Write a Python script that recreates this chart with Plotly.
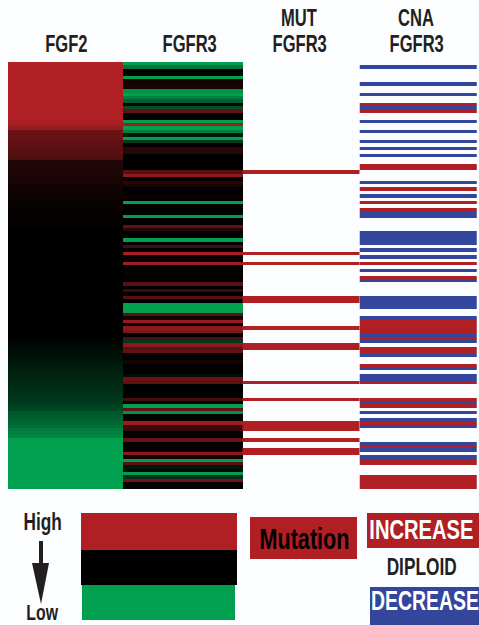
import plotly.graph_objects as go

W, H = 479, 625
BG = "#fcfdfe"
RED, GREEN, BLUE, BLACK = "#b01f24", "#00a04f", "#34469b", "#000000"
FONT = "Liberation Sans, Arimo, sans-serif"

n_rows = 126
fgf2 = [1.0] * 17 + [.97, .93, .85, .62, .6, .58, .57, .55, .53, .5, .48, .45,
        .2, .19, .18, .17, .16, .14, .13, .12, .1, .09, .07, .06, .05, .05, .04, .04,
        .03, .03, .02, .02] + [0.0] * 33 + [-.03, -.05, -.07, -.09, -.1, -.12, -.14, -.16, -.18,
        -.2, -.22, -.24, -.25, -.26, -.28, -.3, -.32, -.34, -.36, -.42, -.45, -.55, -.58,
        -.62, -.65, -.7, -.78, -.8, -.85] + [-1.0] * 16
fgf2 = fgf2[:n_rows] + [-1.0] * (n_rows - len(fgf2))

fgfr3 = [-1, -.75, 0, .02, -1, .1, .12, .15, -.9, -1, -.8, -.6, 0, -.5, .55, 0, 0, -1, .9, -1,
         -.8, -.15, -1, -.35, .02, .22, .22, 0, 0, 0, 0, 0, .5, .8, .03, .22, .15, 0, 0, .05,
         .05, -1, 0, 0, 0, -1, 0, 0, .55, .22, 0, 0, -1, 0, .4, .02, .95, .08, 0, .9,
         0, 0, .05, 0, 0, .5, 0, .35, 0, .5, 0, -1, -1, -1, .5, .1, .85, 0, .8, .7,
         0, .45, -.35, .8, .5, .55, 0, 0, .12, 0, 0, 0, -.08, .6, .55, 0, 0, 0, 0, .4,
         .03, -1, .55, -.9, .02, .02, .9, .35, .3, .02, .02, .6, .03, .03, .05, .8, .1, -1, .5, -.15,
         -.05, -1, -.3, .65, 0, 0]

mut_rows = [32, 56, 59, 69, 70, 78, 83, 84, 94, 99, 106, 107, 108, 111, 114, 115]
cna_gain_rows = [12, 14, 30, 31, 37, 41, 43, 59, 63, 76, 77, 78, 79, 81, 84, 85, 89, 94, 99, 101,
                 106, 113, 117, 118, 122, 123, 124, 125]
cna_loss_rows = [1, 6, 9, 13, 17, 20, 23, 25, 27, 35, 39, 44, 45, 50, 51, 52, 53, 55, 57, 61, 64,
                 69, 70, 71, 72, 75, 80, 82, 86, 90, 92, 93, 100, 103, 105, 107, 112, 114, 116]

column_edges = [-.5, .48, 1.5]
rows = list(range(n_rows))
expr = [[a, b] for a, b in zip(fgf2, fgfr3)]
mut = [[1 if r in mut_rows else None] for r in rows]
cna = [[1 if r in cna_gain_rows else (-1 if r in cna_loss_rows else None)] for r in rows]

fig = go.Figure()
fig.add_trace(go.Heatmap(x=column_edges, y=rows, z=expr, zmin=-1, zmax=1, showscale=False,
                         colorscale=[[0, GREEN], [.5, BLACK], [1, RED]], hoverongaps=False))
fig.add_trace(go.Heatmap(x=[2], y=rows, z=mut, zmin=0, zmax=1, showscale=False,
                         colorscale=[[0, RED], [1, RED]], hoverongaps=False))
fig.add_trace(go.Heatmap(x=[3], y=rows, z=cna, zmin=-1, zmax=1, showscale=False,
                         colorscale=[[0, BLUE], [.49, BLUE], [.51, RED], [1, RED]], hoverongaps=False))


def px(x):
    return x / W


def py(y):
    return 1 - y / H


def text(x, y, s, size=20, color="#231f20"):
    fig.add_annotation(xref="paper", yref="paper", x=px(x), y=py(y), text=f"<b>{s}</b>", showarrow=False,
                       xanchor="center", yanchor="middle", font=dict(family=FONT, size=size, color=color))


def rect(x0, y0, x1, y1, color):
    fig.add_shape(type="rect", xref="paper", yref="paper", x0=px(x0), x1=px(x1), y0=py(y0), y1=py(y1),
                  fillcolor=color, line_width=0, layer="below")


for x, y, s in [(66, 44, "FGF2"), (189, 44, "FGFR3"), (299, 18, "MUT"), (299, 44, "FGFR3"),
                (416, 18, "CNA"), (416, 44, "FGFR3")]:
    text(x, y, s, 23)

rect(81, 513, 237, 550, RED)
rect(81, 550, 237, 585, BLACK)
rect(82, 585, 235, 620, GREEN)
rect(250, 517, 357, 559, RED)
rect(367, 513, 479, 548, RED)
rect(370, 587, 479, 625, BLUE)

text(42, 521, "High", 24)
text(42, 612, "Low", 22)
text(304, 538, "Mutation", 30, "#000000")
text(421, 529, "INCREASE", 28, "#ffffff")
text(421, 566, "DIPLOID", 24)
text(425, 601, "DECREASE", 27, "#ffffff")

fig.add_shape(type="rect", xref="paper", yref="paper", x0=px(39), x1=px(43), y0=py(541), y1=py(565),
              fillcolor="#231f20", line_width=0)
fig.add_shape(type="path", xref="paper", yref="paper", fillcolor="#231f20", line_width=0,
              path=f"M {px(32)} {py(563)} L {px(49)} {py(563)} L {px(41)} {py(604)} Z")

fig.update_layout(width=W, height=H, margin=dict(l=0, r=0, t=0, b=0), paper_bgcolor=BG, plot_bgcolor=BG,
                  xaxis=dict(domain=[px(8), px(477)], range=[-.5, 3.5], visible=False),
                  yaxis=dict(domain=[py(489), py(62)], range=[n_rows - .5, -.5], visible=False))

# Narrow the sans letters to the reference's condensed face, keeping them real text.
squeeze = """
document.body.style.margin='0';
document.body.style.background='%s';
document.documentElement.style.overflow='hidden';
document.querySelectorAll('.annotation-text').forEach(function(t){
  var b=t.getBBox(), c=b.x+b.width/2;
  t.setAttribute('transform','translate('+c+',0) scale(0.72,1) translate('+(-c)+',0)');
});
""" % BG
fig.write_html("out.html", config={"displayModeBar": False}, post_script=squeeze)
